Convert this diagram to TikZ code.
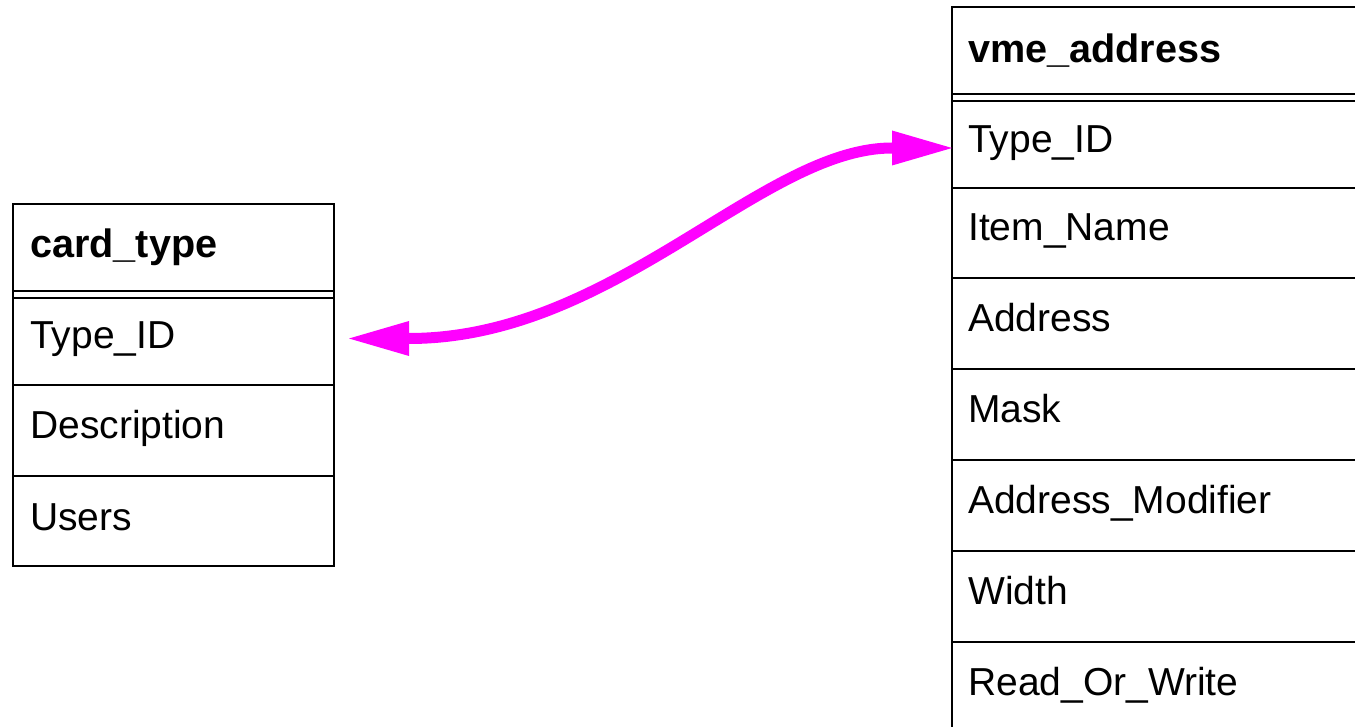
\documentclass[tikz,border=0pt]{standalone}
\usepackage{fontspec}
\setmainfont{Liberation Sans}
\usetikzlibrary{arrows.meta}
\definecolor{linkmagenta}{RGB}{255,0,255}
\begin{document}
\begin{tikzpicture}[x=1pt,y=-1pt,
  cell/.style={draw=black, line width=2.5pt, rectangle, inner sep=0pt,
    outer sep=0pt, anchor=north west, minimum width=#1},
  frame/.style={draw=black, line width=2.5pt},
  field/.style={anchor=base west, inner sep=0pt,
    font=\fontsize{39}{44}\selectfont},
  title/.style={field, font=\fontsize{39.6}{44}\selectfont\bfseries},
  link/.style={draw=linkmagenta, line width=11pt,
    {Triangle[length=60pt,width=35pt,line width=0pt]}-{Triangle[length=60pt,width=35pt,line width=0pt]}}
]
\useasboundingbox (0,0) rectangle (1355,727);
\clip (0,0) rectangle (1355,727);

% table card_type
\node[cell=321pt, minimum height=87pt] (ct)  at (13,204) {};
\node[cell=321pt, minimum height=87pt] (ct1) at (13,298) {};
\node[cell=321pt, minimum height=91pt] (ct2) at (13,385) {};
\node[cell=321pt, minimum height=90pt] (ct3) at (13,476) {};
\draw[frame] (ct.north west) rectangle (ct3.south east);
\node[title] at ([shift={(17,10)}]ct.west)  {card\_type};
\node[field] at ([shift={(17,7)}]ct1.west) {Type\_ID};
\node[field] at ([shift={(17,8)}]ct2.west) {Description};
\node[field] at ([shift={(17,9)}]ct3.west) {Users};

% table vme_address
\node[cell=500pt, minimum height=87pt] (va)  at (952,7) {};
\node[cell=500pt, minimum height=87pt] (va1) at (952,101) {};
\node[cell=500pt, minimum height=90pt] (va2) at (952,188) {};
\node[cell=500pt, minimum height=91pt] (va3) at (952,278) {};
\node[cell=500pt, minimum height=91pt] (va4) at (952,369) {};
\node[cell=500pt, minimum height=91pt] (va5) at (952,460) {};
\node[cell=500pt, minimum height=91pt] (va6) at (952,551) {};
\node[cell=500pt, minimum height=91pt] (va7) at (952,642) {};
\draw[frame] (va.north west) rectangle (va7.south east);
\node[title] at ([shift={(16,12)}]va.west)  {vme\_address};
\node[field] at ([shift={(16,8)}]va1.west) {Type\_ID};
\node[field] at ([shift={(16,8)}]va2.west) {Item\_Name};
\node[field] at ([shift={(16,8)}]va3.west) {Address};
\node[field] at ([shift={(16,8)}]va4.west) {Mask};
\node[field] at ([shift={(16,8)}]va5.west) {Address\_Modifier};
\node[field] at ([shift={(16,8)}]va6.west) {Width};
\node[field] at ([shift={(16,8)}]va7.west) {Read\_Or\_Write};

% relation between the two Type_ID keys
\draw[link] ([shift={(15,-3)}]ct1.east) .. controls +(265,0) and +(-190,0) .. ([shift={(0,3.5)}]va1.west);
\end{tikzpicture}
\end{document}
